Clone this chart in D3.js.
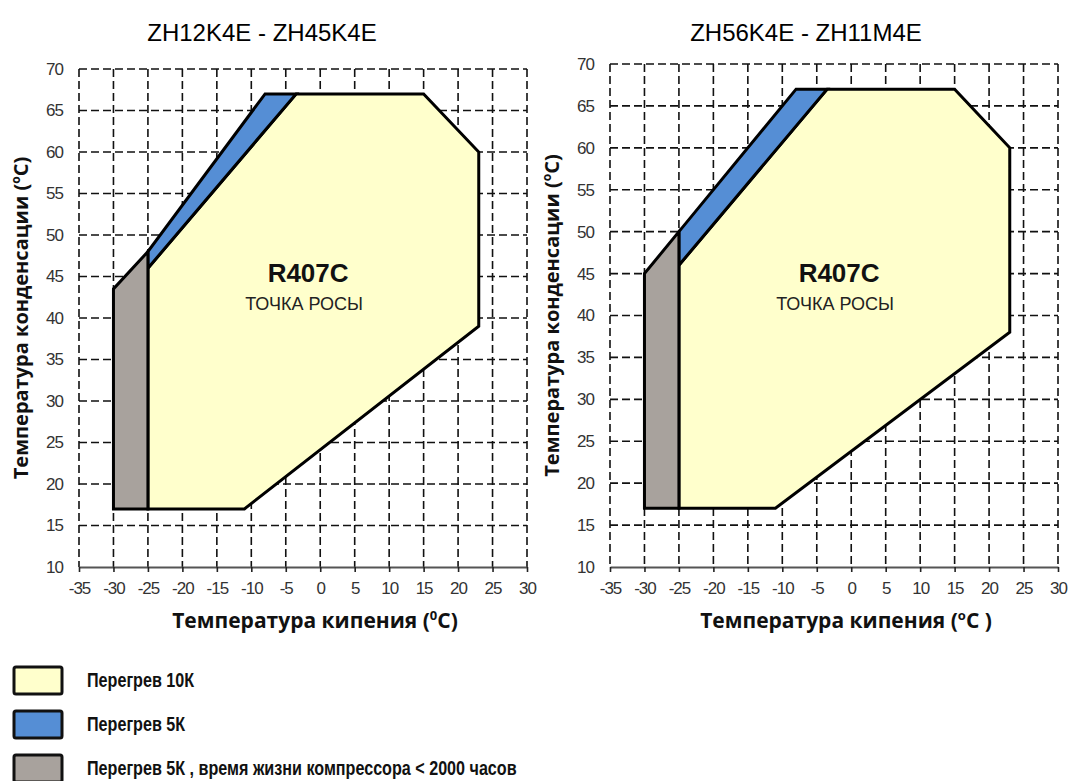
<!DOCTYPE html>
<html>
<head>
<meta charset="utf-8">
<script src="https://cdn.jsdelivr.net/npm/d3@7"></script>
<style>
  html, body { margin: 0; padding: 0; background: #fff; }
  svg { display: block; }
</style>
</head>
<body>
<svg id="chart" width="1070" height="781"></svg>
<script>
// ---------------- DATA ----------------
const xTickValues = [-35, -30, -25, -20, -15, -10, -5, 0, 5, 10, 15, 20, 25, 30];
const yTickValues = [10, 15, 20, 25, 30, 35, 40, 45, 50, 55, 60, 65, 70];

const leftTitle = "ZH12K4E - ZH45K4E";
const rightTitle = "ZH56K4E - ZH11M4E";

// envelope polygons [evaporating temp, condensing temp]
const leftSuperheat10 = [[-25, 17], [-11, 17], [23, 39], [23, 60], [15, 67], [-3.5, 67], [-25, 46]];
const leftSuperheat5 = [[-25, 46], [-25, 48], [-8, 67], [-3.5, 67]];
const leftShortLife = [[-30, 17], [-30, 43.5], [-25, 48], [-25, 17]];

const rightSuperheat10 = [[-25, 17], [-11, 17], [23, 38], [23, 60], [15, 67], [-3.5, 67], [-25, 46]];
const rightSuperheat5 = [[-25, 46], [-25, 50], [-8, 67], [-3.5, 67]];
const rightShortLife = [[-30, 17], [-30, 45], [-25, 50], [-25, 17]];

const refrigerant = "R407C";
const refrigerantNote = "ТОЧКА РОСЫ";
const xAxisTitle = "Температура кипения";
const yAxisTitle = "Температура конденсации";

const legendLabels = ["Перегрев 10К", "Перегрев 5К", "Перегрев 5К , время жизни компрессора < 2000 часов"];

// ---------------- STYLE ----------------
const colors = { sh10: "#FFFFCC", sh5: "#558ED5", life: "#A8A29D" };
const legendColors = [colors.sh10, colors.sh5, colors.life];
const sans = "Liberation Sans, Arial, sans-serif";

const svg = d3.select("#chart");

const charts = [
  { title: leftTitle, sh10: leftSuperheat10, sh5: leftSuperheat5, life: leftShortLife,
    x0: 79, x1: 527, y0: 567, y1: 69, titleX: 262, yTitleX: 28, supX: "0", xSuffix: "C)" },
  { title: rightTitle, sh10: rightSuperheat10, sh5: rightSuperheat5, life: rightShortLife,
    x0: 610, x1: 1058, y0: 567, y1: 64, titleX: 806, yTitleX: 559, supX: "o", xSuffix: "C )" }
];

charts.forEach(c => {
  const x = d3.scaleLinear().domain([-35, 30]).range([c.x0, c.x1]);
  const y = d3.scaleLinear().domain([10, 70]).range([c.y0, c.y1]);
  const g = svg.append("g");

  // grid (dashed)
  const grid = g.append("g").attr("stroke", "#111").attr("stroke-width", 1.6)
    .attr("stroke-dasharray", "8,4").attr("fill", "none");
  grid.selectAll("line.v").data(xTickValues).join("line").attr("class", "v")
    .attr("x1", d => x(d)).attr("x2", d => x(d))
    .attr("y1", y(70)).attr("y2", y(10));
  grid.selectAll("line.h").data(yTickValues.filter(v => v > 10)).join("line").attr("class", "h")
    .attr("x1", x(-35)).attr("x2", x(30))
    .attr("y1", d => y(d)).attr("y2", d => y(d));

  // bottom axis
  const xAxis = d3.axisBottom(x).tickValues(xTickValues).tickFormat(d => String(d))
    .tickSize(5).tickSizeOuter(0).tickPadding(8);
  const xa = g.append("g").attr("transform", `translate(0,${y(10)})`).call(xAxis);
  xa.select(".domain").attr("stroke", "#555").attr("stroke-width", 2.2);
  xa.selectAll(".tick line").attr("stroke", "#222").attr("stroke-width", 1.6);
  xa.selectAll(".tick text").attr("font-family", sans)
    .attr("font-size", 17).attr("letter-spacing", -1).attr("fill", "#333").attr("dy", "0.8em");

  // left axis labels only
  const yAxis = d3.axisLeft(y).tickValues(yTickValues).tickFormat(d => String(d)).tickSize(0).tickPadding(16);
  const ya = g.append("g").attr("transform", `translate(${x(-35)},0)`).call(yAxis);
  ya.select(".domain").remove();
  ya.selectAll(".tick text").attr("font-family", sans)
    .attr("font-size", 17).attr("letter-spacing", -1).attr("fill", "#333");

  // polygons
  const line = d3.line().x(d => x(d[0])).y(d => y(d[1])).curve(d3.curveLinearClosed);
  [[c.sh10, colors.sh10], [c.sh5, colors.sh5], [c.life, colors.life]].forEach(([pts, col]) => {
    g.append("path").attr("d", line(pts)).attr("fill", col)
      .attr("stroke", "#000").attr("stroke-width", 3).attr("stroke-linejoin", "miter");
  });

  // titles
  g.append("text").attr("x", c.titleX).attr("y", 41).attr("text-anchor", "middle")
    .attr("font-family", sans).attr("font-size", 24).attr("fill", "#000")
    .text(c.title);

  // refrigerant label
  const cx = x(-3.5) + 12;
  g.append("text").attr("x", cx).attr("y", 282).attr("text-anchor", "middle")
    .attr("font-family", sans).attr("font-weight", "bold")
    .attr("font-size", 26).attr("fill", "#111").text(refrigerant);
  g.append("text").attr("x", cx - 4).attr("y", 310).attr("text-anchor", "middle")
    .attr("font-family", sans)
    .attr("font-size", 18).attr("fill", "#222").text(refrigerantNote);

  // x axis title
  const xt = g.append("text").attr("x", (c.x0 + c.x1) / 2 + 12).attr("y", 628).attr("text-anchor", "middle")
    .attr("font-family", "Open Sans, sans-serif").attr("font-weight", "bold")
    .attr("font-size", 21).attr("fill", "#111");
  xt.append("tspan").text(xAxisTitle + " (");
  xt.append("tspan").attr("font-size", 13).attr("dy", -8).text(c.supX);
  xt.append("tspan").attr("dy", 8).text(c.xSuffix);

  // y axis title
  const yt = g.append("text").attr("transform", `translate(${c.yTitleX},${(c.y0 + c.y1) / 2}) rotate(-90)`)
    .attr("text-anchor", "middle")
    .attr("font-family", "Open Sans, sans-serif").attr("font-weight", "bold")
    .attr("font-size", 20).attr("fill", "#111");
  yt.append("tspan").text(yAxisTitle + " (");
  yt.append("tspan").attr("font-size", 12).attr("dy", -8).text("o");
  yt.append("tspan").attr("dy", 8).text("C)");
});

// legend
const legendY = [667, 711, 755];
const lg = svg.append("g");
legendLabels.forEach((lab, i) => {
  lg.append("rect").attr("x", 14).attr("y", legendY[i]).attr("width", 48).attr("height", 27)
    .attr("rx", 2).attr("fill", legendColors[i]).attr("stroke", "#111").attr("stroke-width", 3);
});
const lt = lg.append("g");
const texts = lt.selectAll("text").data(legendLabels).join("text")
  .attr("x", 0).attr("y", (d, i) => legendY[i] + 20)
  .attr("font-family", sans).attr("font-weight", "bold").attr("font-size", 20).attr("fill", "#111")
  .text(d => d);
const longest = texts.nodes()[2].getComputedTextLength();
const sx = 430 / longest;
lt.attr("transform", `translate(87,0) scale(${sx},1)`);
</script>
</body>
</html>
